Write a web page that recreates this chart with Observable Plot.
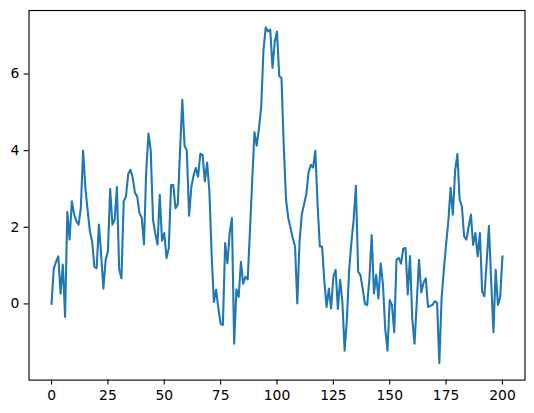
<!DOCTYPE html>
<html>
<head>
<meta charset="utf-8">
<script src="https://cdn.jsdelivr.net/npm/d3@7"></script>
<script src="https://cdn.jsdelivr.net/npm/@observablehq/plot@0.6"></script>
<style>
  html, body { margin: 0; padding: 0; background: white; }
  #chart svg { display: block; }
</style>
</head>
<body>
<div id="chart"></div>
<script>
// Series values, one per integer x from 0 to 200
const values = [
  0, 0.93, 1.1, 1.24, 0.27, 1.03, -0.34, 2.4, 1.68, 2.68,
  2.34, 2.16, 2.07, 2.51, 4.0, 3.03, 2.45, 1.9, 1.63, 0.97,
  0.93, 2.07, 1.28, 0.4, 1.15, 1.37, 3.0, 2.07, 2.2, 3.05,
  0.9, 0.67, 2.68, 2.8, 3.39, 3.5, 3.3, 2.9, 2.8, 2.37,
  2.25, 1.55, 3.47, 4.45, 4.0, 2.2, 1.84, 1.55, 2.85, 1.65,
  1.85, 1.2, 1.45, 3.1, 3.1, 2.5, 2.6, 4.0, 5.33, 4.13,
  4.0, 2.3, 3.05, 3.35, 3.55, 3.32, 3.92, 3.89, 3.2, 3.69,
  2.95, 1.3, 0.05, 0.37, -0.12, -0.52, -0.55, 1.59, 1.06, 1.85,
  2.24, -1.04, 0.38, 0.18, 1.1, 0.53, 0.71, 0.64, 1.9, 3.2,
  4.48, 4.13, 4.58, 5.14, 6.63, 7.22, 7.11, 7.16, 6.16, 6.85,
  7.11, 5.95, 5.89, 4.1, 2.73, 2.24, 1.98, 1.72, 1.5, 0.01,
  1.63, 2.34, 2.6, 2.87, 3.43, 3.63, 3.56, 4.0, 2.6, 1.5,
  1.5, 0.6, -0.08, 0.4, -0.12, 0.71, 0.89, -0.13, 0.63, 0.05,
  -1.22, -0.4, 0.89, 1.6, 2.2, 3.08, 0.84, 0.75, 0.4, 0.0,
  -0.03, 0.67, 1.8, 0.27, 0.76, 0.14, 1.06, 0.5, -0.65, -1.22,
  0.1, -0.03, -0.74, 1.15, 1.2, 1.05, 1.44, 1.46, 0.25, 1.25,
  -0.4, -1.04, 0.05, 1.15, 0.3, 0.55, 0.67, -0.08, -0.05, -0.03,
  0.07, 0.03, -1.55, 0.14, 0.89, 1.55, 2.16, 3.03, 2.33, 3.47,
  3.91, 2.73, 2.55, 1.76, 1.68, 2.0, 2.33, 1.54, 1.85, 1.24,
  1.85, 0.32, 0.2, 1.1, 2.03, 0.6, -0.74, 0.89, -0.03, 0.18,
  1.24
];
const xTicks = [0, 25, 50, 75, 100, 125, 150, 175, 200];
const yTicks = [0, 2, 4, 6];

const data = values.map((v, i) => ({x: i, y: v}));

// matplotlib-like 5% margins
const xmin = 0, xmax = values.length - 1;
const ymin = d3.min(values), ymax = d3.max(values);
const xpad = (xmax - xmin) * 0.05, ypad = (ymax - ymin) * 0.05;

const pt = 100 / 72;
const chart = Plot.plot({
  width: 534,
  height: 413,
  marginLeft: 28.5,
  marginRight: 9.5,
  marginTop: 10,
  marginBottom: 33.4,
  style: {fontFamily: "DejaVu Sans, sans-serif", fontSize: (10 * pt) + "px", background: "white", color: "black"},
  x: {domain: [xmin - xpad, xmax + xpad]},
  y: {domain: [ymin - ypad, ymax + ypad]},
  marks: [
    Plot.line(data, {x: "x", y: "y", stroke: "#1f77b4", strokeWidth: 1.5 * pt, strokeLinejoin: "round"}),
    Plot.frame({stroke: "black", strokeWidth: 0.8 * pt}),
    Plot.axisX({ticks: xTicks, tickSize: 3.5 * pt, tickPadding: 3.5 * pt, label: null, stroke: "black", strokeWidth: 0.8 * pt, fill: "black"}),
    Plot.axisY({ticks: yTicks, tickSize: 3.5 * pt, tickPadding: 3.5 * pt, label: null, stroke: "black", strokeWidth: 0.8 * pt, fill: "black"})
  ]
});
document.getElementById("chart").appendChild(chart);
</script>
</body>
</html>
